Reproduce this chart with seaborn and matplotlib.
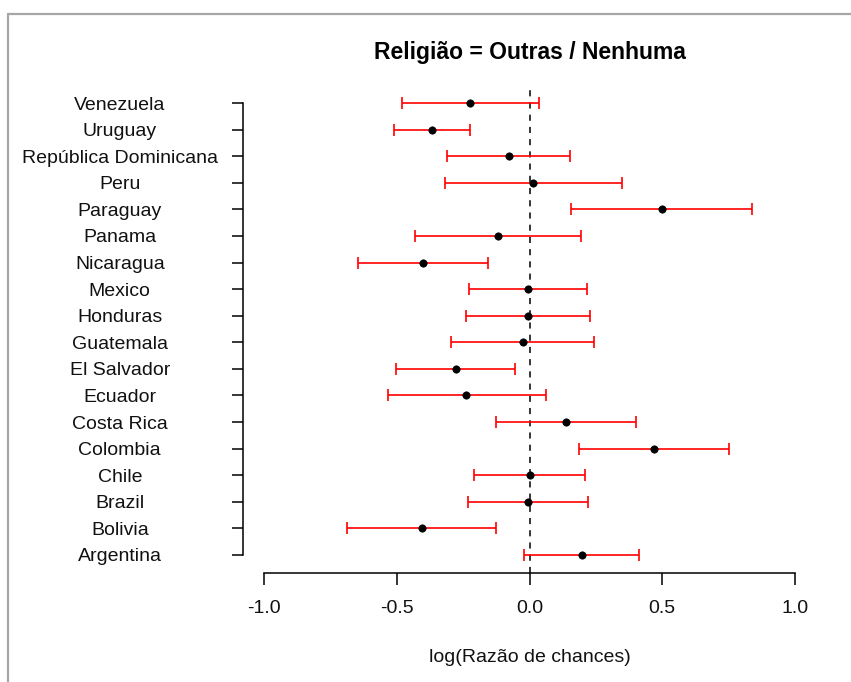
import matplotlib
matplotlib.use("Agg")
import matplotlib.pyplot as plt
from matplotlib.lines import Line2D
import seaborn as sns
import pandas as pd

# Countries from bottom (Argentina) to top (Venezuela)
countries = ["Argentina", "Bolivia", "Brazil", "Chile", "Colombia", "Costa Rica",
             "Ecuador", "El Salvador", "Guatemala", "Honduras", "Mexico", "Nicaragua",
             "Panama", "Paraguay", "Peru", "República Dominicana", "Uruguay", "Venezuela"]
estimate = [0.197, -0.407, -0.005, 0.000, 0.470, 0.136,
            -0.238, -0.278, -0.026, -0.005, -0.005, -0.400,
            -0.119, 0.498, 0.013, -0.077, -0.367, -0.224]
lower = [-0.019, -0.688, -0.231, -0.208, 0.187, -0.126,
         -0.533, -0.504, -0.296, -0.238, -0.228, -0.646,
         -0.432, 0.156, -0.317, -0.312, -0.510, -0.480]
upper = [0.413, -0.125, 0.219, 0.210, 0.752, 0.401,
         0.063, -0.054, 0.243, 0.228, 0.217, -0.156,
         0.193, 0.838, 0.349, 0.152, -0.224, 0.034]
x_ticks = [-1.0, -0.5, 0.0, 0.5, 1.0]
x_tick_labels = ["-1.0", "-0.5", "0.0", "0.5", "1.0"]

df = pd.DataFrame({"pais": countries, "est": estimate, "lo": lower, "hi": upper})
df["pos"] = range(1, len(df) + 1)

sns.set_theme(style="white")
plt.rcParams["font.family"] = ["Liberation Sans", "DejaVu Sans"]

W, H = 851, 682
fig = plt.figure(figsize=(W / 100, H / 100), dpi=100)
ax = fig.add_axes([243 / W, 1 - 573 / H, (816 - 243) / W, (573 - 85) / H])

# confidence intervals
ax.errorbar(df["est"], df["pos"],
            xerr=[df["est"] - df["lo"], df["hi"] - df["est"]],
            fmt="none", ecolor="#ff0000", elinewidth=1.2, capsize=4.2,
            capthick=1.2, zorder=2)

# point estimates
sns.scatterplot(data=df, x="est", y="pos", ax=ax, color="black", s=28,
                edgecolor="black", linewidth=0.5, zorder=3, legend=False)

# reference line at zero
ax.axvline(0, color="black", linestyle=(0, (4, 4)), linewidth=1.1, zorder=1)

ax.set_xlim(-1.08, 1.08)
ax.set_ylim(0.32, len(df) + 0.68)

ax.set_xticks(x_ticks)
ax.set_xticklabels(x_tick_labels, fontsize=14, color="#111111")
ax.set_yticks(df["pos"])
ax.set_yticklabels(df["pais"], fontsize=14, color="#111111", ha="center")

ax.tick_params(axis="x", direction="out", length=8.6, width=1.1, color="black",
               pad=10.5, bottom=True)
ax.tick_params(axis="y", direction="out", length=8.2, width=1.1, color="black",
               pad=80.5, left=True)

for side in ["top", "right"]:
    ax.spines[side].set_visible(False)
for side in ["left", "bottom"]:
    ax.spines[side].set_color("black")
    ax.spines[side].set_linewidth(1.1)
ax.spines["left"].set_bounds(1, len(df))
ax.spines["bottom"].set_bounds(-1, 1)
ax.set_xlabel("")
ax.set_ylabel("")
ax.grid(False)

fig.text(529.5 / W, 1 - 53 / H, "Religião = Outras / Nenhuma", ha="center",
         va="center", fontsize=16.5, fontweight="bold", color="black")
fig.text(529.5 / W, 1 - 657 / H, "log(Razão de chances)", ha="center",
         va="center", fontsize=14, color="#111111")

# outer frame
fig.add_artist(Line2D([8 / W, 1], [1 - 14 / H, 1 - 14 / H], color="#a6a6a6",
                      linewidth=1.6, transform=fig.transFigure))
fig.add_artist(Line2D([8 / W, 8 / W], [0, 1 - 14 / H], color="#a6a6a6",
                      linewidth=1.6, transform=fig.transFigure))

fig.savefig("out.png", dpi=100)
